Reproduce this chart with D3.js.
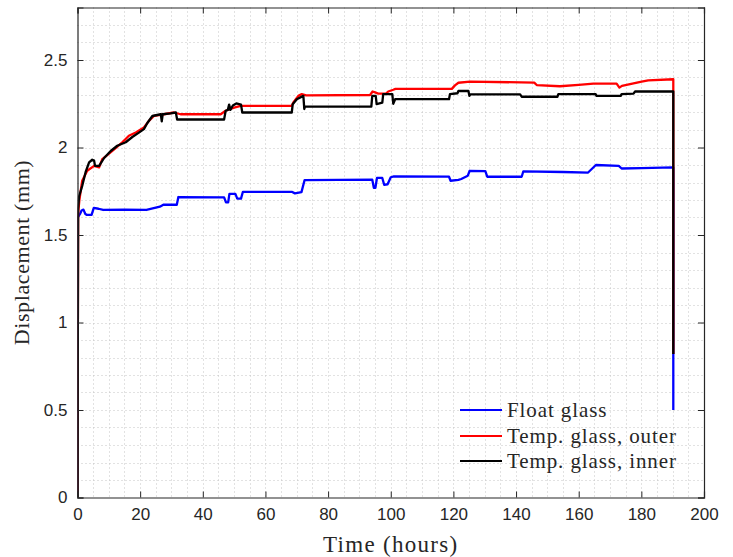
<!DOCTYPE html>
<html>
<head>
<meta charset="utf-8">
<script src="https://cdn.jsdelivr.net/npm/d3@7"></script>
<style>
  html, body { margin: 0; padding: 0; background: #fff; }
  svg { display: block; }
</style>
</head>
<body>
<div id="viz"></div>
<script>
// Displacement vs time, three glass specimens

const X_TICKS = [0, 20, 40, 60, 80, 100, 120, 140, 160, 180, 200];
const Y_TICKS = [0, 0.5, 1, 1.5, 2, 2.5];
const Y_TICK_LABELS = ["0", "0.5", "1", "1.5", "2", "2.5"];

const SERIES_NAMES = ["Float glass", "Temp. glass, outer", "Temp. glass, inner"];
const SERIES_COLORS = ["#0000ff", "#ff0000", "#000000"];

// [time (hours), displacement (mm)]
const floatGlass = [
  [0,0],[0.1,1.6],[0.8,1.62],[1.3,1.64],[1.9,1.645],[2.5,1.62],[3,1.615],[4.5,1.615],
  [5.2,1.655],[6.7,1.65],[8.2,1.643],[15,1.645],[22,1.643],[24,1.652],[26.3,1.662],
  [27.4,1.673],[31.7,1.673],[32.2,1.717],[46.8,1.715],[47.4,1.686],[48.1,1.686],
  [48.5,1.735],[50.4,1.735],[51,1.708],[52.2,1.708],[52.8,1.747],[68.4,1.747],
  [69.4,1.738],[71.5,1.745],[72.5,1.814],[94.1,1.816],[94.6,1.77],[95.1,1.77],
  [95.6,1.826],[97.3,1.826],[97.9,1.787],[99,1.79],[100,1.83],[101,1.835],
  [118.6,1.833],[119.1,1.81],[121.6,1.815],[122.5,1.82],[124.6,1.839],[125.2,1.867],
  [130.2,1.865],[130.8,1.833],[141.8,1.833],[142.3,1.863],[155,1.86],[163,1.857],
  [165.5,1.9],[172.8,1.895],[173.7,1.88],[180,1.882],[190.2,1.886],[190.2,0.5]
];

const temperedOuter = [
  [0,0],[0.2,1.62],[0.6,1.7],[1.5,1.81],[3.1,1.867],[5.3,1.895],[6.9,1.886],
  [7.9,1.934],[9.5,1.957],[11.7,1.99],[14.3,2.029],[16.4,2.067],[18.6,2.086],
  [21.2,2.114],[22.8,2.152],[24.4,2.181],[27.6,2.19],[30.8,2.2],[32.9,2.19],
  [45.7,2.19],[47.3,2.21],[50,2.228],[52.1,2.238],[68.4,2.238],[68.9,2.257],
  [70.5,2.295],[71.6,2.305],[73,2.298],[93.4,2.3],[94.2,2.32],[95,2.315],[96,2.308],
  [98.5,2.308],[99.2,2.32],[100.8,2.33],[101.5,2.335],[119.5,2.335],[120.5,2.355],
  [121.6,2.37],[125.3,2.376],[145.8,2.371],[146.6,2.357],[154,2.35],[160,2.358],
  [164.7,2.365],[172.1,2.365],[173,2.342],[173.8,2.352],[180.1,2.376],[182.2,2.384],
  [190.2,2.39],[190.2,0.82]
];

const temperedInner = [
  [0,0],[0.2,1.65],[0.5,1.72],[1.5,1.78],[2.6,1.86],[3.7,1.915],[4.7,1.93],
  [5.3,1.925],[5.6,1.895],[6.9,1.895],[8.5,1.94],[10.6,1.98],[12.7,2.01],[15.4,2.03],
  [17.5,2.06],[19.6,2.085],[21.2,2.105],[22.3,2.14],[23.9,2.18],[26.6,2.19],
  [26.9,2.15],[27.2,2.19],[29.7,2.195],[31.4,2.2],[31.8,2.16],[46.8,2.16],[47.3,2.21],
  [48,2.215],[48.4,2.245],[48.8,2.215],[49.6,2.24],[50.7,2.252],[52.2,2.245],
  [52.6,2.2],[68.4,2.2],[68.7,2.247],[70,2.276],[72.1,2.295],[72.4,2.22],[72.6,2.234],
  [93.8,2.234],[94.1,2.295],[95.2,2.295],[95.5,2.248],[97.3,2.257],[97.6,2.305],
  [100.5,2.305],[100.8,2.25],[101.4,2.276],[118.6,2.276],[118.9,2.305],[121.3,2.31],
  [121.6,2.323],[124.8,2.323],[125.1,2.295],[125.4,2.304],[141.3,2.304],[141.8,2.29],
  [153.2,2.29],[153.5,2.305],[165.4,2.305],[165.7,2.295],[173.4,2.295],[173.7,2.305],
  [177.5,2.308],[178,2.32],[190.2,2.32],[190.2,0.82]
];

const SERIES = [floatGlass, temperedOuter, temperedInner];

const width = 733, height = 557;
const margin = { top: 7.5, right: 29, bottom: 59.5, left: 77.5 };

const x = d3.scaleLinear().domain([0, 200]).range([margin.left, width - margin.right]);
const y = d3.scaleLinear().domain([0, 2.8]).range([height - margin.bottom, margin.top]);

const svg = d3.select("#viz").append("svg")
  .attr("width", width)
  .attr("height", height);

const AXIS_COL = "#262626";
const SANS = "'Liberation Sans', Arial, sans-serif";
const SERIF = "'Liberation Serif', 'Times New Roman', serif";

// minor dotted grid
const grid = svg.append("g").attr("stroke", "#c4c4c4").attr("stroke-width", 1)
  .attr("stroke-dasharray", "1 3");

grid.selectAll("line.gx")
  .data(d3.range(5, 200, 5))
  .enter().append("line")
  .attr("x1", d => Math.round(x(d)) + 0.5).attr("x2", d => Math.round(x(d)) + 0.5)
  .attr("y1", y(2.8)).attr("y2", y(0));

grid.selectAll("line.gy")
  .data(d3.range(1, 28).map(i => i / 10))
  .enter().append("line")
  .attr("y1", d => Math.round(y(d)) + 0.5).attr("y2", d => Math.round(y(d)) + 0.5)
  .attr("x1", x(0)).attr("x2", x(200));

// curves
svg.append("clipPath").attr("id", "plotClip")
  .append("rect")
  .attr("x", x(0)).attr("y", y(2.8))
  .attr("width", x(200) - x(0)).attr("height", y(0) - y(2.8));

const line = d3.line().x(d => x(d[0])).y(d => y(d[1]));

svg.append("g").attr("clip-path", "url(#plotClip)")
  .selectAll("path")
  .data(SERIES)
  .enter().append("path")
  .attr("fill", "none")
  .attr("stroke", (d, i) => SERIES_COLORS[i])
  .attr("stroke-width", 2.3)
  .attr("stroke-linejoin", "round")
  .attr("d", line);

// axes, ticks inward on all sides
const tickLen = 6;
const axes = [
  d3.axisBottom(x).tickValues(X_TICKS).tickSize(-tickLen).tickPadding(10).tickFormat(d3.format("d")),
  d3.axisTop(x).tickValues(X_TICKS).tickSize(-tickLen).tickFormat(""),
  d3.axisLeft(y).tickValues(Y_TICKS).tickSize(-tickLen).tickPadding(10).tickFormat((d, i) => Y_TICK_LABELS[i]),
  d3.axisRight(y).tickValues(Y_TICKS).tickSize(-tickLen).tickFormat("")
];
const trans = [
  `translate(0,${y(0)})`, `translate(0,${y(2.8)})`,
  `translate(${x(0)},0)`, `translate(${x(200)},0)`
];

axes.forEach((ax, i) => {
  const g = svg.append("g").attr("transform", trans[i]).call(ax);
  g.select(".domain").attr("stroke", AXIS_COL).attr("stroke-width", 1.2);
  g.selectAll(".tick line").attr("stroke", AXIS_COL).attr("stroke-width", 1);
  g.selectAll(".tick text")
    .attr("fill", AXIS_COL)
    .style("font-family", SANS)
    .style("font-size", "17px");
});

// axis titles
svg.append("text")
  .attr("x", x(100)).attr("y", 552)
  .attr("text-anchor", "middle")
  .style("font-family", SERIF).style("font-size", "23px")
  .style("letter-spacing", "1.3px")
  .attr("fill", AXIS_COL)
  .text("Time (hours)");

svg.append("text")
  .attr("transform", `translate(29,${(y(0) + y(2.8)) / 2}) rotate(-90)`)
  .attr("text-anchor", "middle")
  .style("font-family", SERIF).style("font-size", "22px")
  .style("letter-spacing", "0.6px")
  .attr("fill", AXIS_COL)
  .text("Displacement (mm)");

// legend
const legend = svg.append("g");
const legY = [410, 436, 461];
SERIES_NAMES.forEach((name, i) => {
  legend.append("line")
    .attr("x1", 460).attr("x2", 502)
    .attr("y1", legY[i]).attr("y2", legY[i])
    .attr("stroke", SERIES_COLORS[i]).attr("stroke-width", 2);
  legend.append("text")
    .attr("x", 507).attr("y", legY[i] + 7)
    .style("font-family", SERIF).style("font-size", "21px")
    .style("letter-spacing", "0.9px")
    .attr("fill", AXIS_COL)
    .text(name);
});
</script>
</body>
</html>
